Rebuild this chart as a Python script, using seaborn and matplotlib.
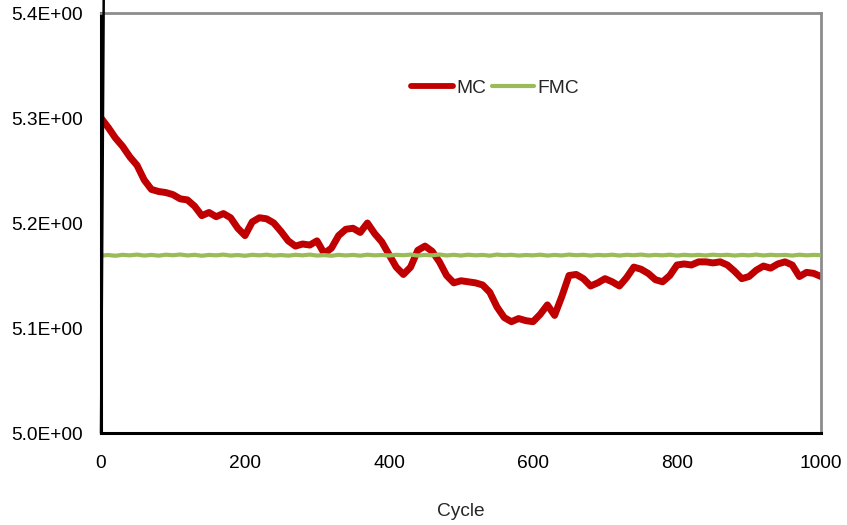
import matplotlib
matplotlib.use("Agg")
import matplotlib.pyplot as plt
import seaborn as sns
import pandas as pd
from matplotlib.lines import Line2D

cycles = list(range(0, 1001, 10))

mc = [5.300, 5.291, 5.281, 5.273, 5.263, 5.255, 5.241, 5.232, 5.230, 5.229,
      5.227, 5.223, 5.222, 5.216, 5.207, 5.210, 5.206, 5.209, 5.205, 5.195,
      5.188, 5.201, 5.205, 5.204, 5.200, 5.192, 5.183, 5.178, 5.180, 5.179,
      5.183, 5.171, 5.176, 5.188, 5.194, 5.195, 5.191, 5.200, 5.190, 5.182,
      5.170, 5.158, 5.151, 5.158, 5.174, 5.178, 5.173, 5.163, 5.150, 5.143,
      5.145, 5.144, 5.143, 5.141, 5.134, 5.120, 5.110, 5.106, 5.109, 5.107,
      5.106, 5.113, 5.122, 5.112, 5.130, 5.150, 5.151, 5.147, 5.140, 5.143,
      5.147, 5.144, 5.140, 5.148, 5.158, 5.156, 5.152, 5.146, 5.144, 5.150,
      5.160, 5.161, 5.160, 5.163, 5.163, 5.162, 5.163, 5.160, 5.154, 5.147,
      5.149, 5.155, 5.159, 5.157, 5.161, 5.163, 5.160, 5.149, 5.153, 5.152,
      5.149]

fmc = [5.1690, 5.1695, 5.1688, 5.1697, 5.1692, 5.1699, 5.1690, 5.1696, 5.1689, 5.1698,
       5.1693, 5.1700, 5.1691, 5.1697, 5.1688, 5.1696, 5.1692, 5.1699, 5.1690, 5.1695,
       5.1688, 5.1697, 5.1692, 5.1698, 5.1690, 5.1695, 5.1689, 5.1697, 5.1692, 5.1699,
       5.1690, 5.1694, 5.1688, 5.1697, 5.1691, 5.1696, 5.1689, 5.1698, 5.1692, 5.1695,
       5.1690, 5.1697, 5.1693, 5.1699, 5.1690, 5.1696, 5.1692, 5.1700, 5.1691, 5.1697,
       5.1690, 5.1698, 5.1692, 5.1696, 5.1689, 5.1699, 5.1693, 5.1697, 5.1690, 5.1695,
       5.1692, 5.1698, 5.1690, 5.1696, 5.1691, 5.1699, 5.1693, 5.1697, 5.1690, 5.1696,
       5.1692, 5.1698, 5.1690, 5.1697, 5.1693, 5.1699, 5.1691, 5.1696, 5.1692, 5.1698,
       5.1690, 5.1697, 5.1692, 5.1696, 5.1691, 5.1698, 5.1693, 5.1697, 5.1690, 5.1696,
       5.1692, 5.1699, 5.1691, 5.1697, 5.1693, 5.1696, 5.1690, 5.1698, 5.1692, 5.1696,
       5.1694]

# black start segment (runs off the top of the chart at cycle 0)
start_x = [0, 4]
start_y = [5.0, 5.44]

series_names = ["MC", "FMC"]
colors = {"MC": "#C00000", "FMC": "#9BBB59"}
yticks = [5.0, 5.1, 5.2, 5.3, 5.4]
ytick_labels = ["5.0E+00", "5.1E+00", "5.2E+00", "5.3E+00", "5.4E+00"]
xticks = [0, 200, 400, 600, 800, 1000]

df = pd.DataFrame({
    "Cycle": cycles * 2,
    "value": mc + fmc,
    "series": ["MC"] * len(cycles) + ["FMC"] * len(cycles),
})

sns.set_theme(style="white")
plt.rcParams["font.family"] = ["Liberation Sans", "DejaVu Sans"]

fig = plt.figure(figsize=(8.47, 5.25), dpi=100)
ax = fig.add_axes([101 / 847, 1 - 433 / 525, 720 / 847, 420 / 525])

sns.lineplot(data=df, x="Cycle", y="value", hue="series", hue_order=series_names,
             palette=colors, ax=ax, legend=False, estimator=None, sort=False)
lines = ax.get_lines()
lines[0].set_linewidth(5.0)
lines[1].set_linewidth(3.0)
lines[1].set_zorder(3)
lines[0].set_zorder(2)
for ln in lines:
    ln.set_solid_capstyle("round")
    ln.set_solid_joinstyle("round")

sns.lineplot(x=start_x, y=start_y, color="black", lw=1.8, ax=ax, clip_on=False,
             estimator=None, sort=False, zorder=4)

ax.set_xlim(0, 1000)
ax.set_ylim(5.0, 5.4)
ax.set_xticks(xticks)
ax.set_yticks(yticks)
ax.set_yticklabels(ytick_labels)
ax.tick_params(axis="both", direction="out", length=5, width=1.6, color="black",
               labelsize=13.8, colors="black")
ax.tick_params(axis="x", pad=11)
ax.tick_params(axis="y", pad=8)

for side in ["left", "bottom"]:
    ax.spines[side].set_color("black")
    ax.spines[side].set_linewidth(2.2)
for side in ["top", "right"]:
    ax.spines[side].set_color("#8c8c8c")
    ax.spines[side].set_linewidth(2.0)
    ax.spines[side].set_visible(True)

ax.set_xlabel("Cycle", fontsize=13.8, labelpad=22)
ax.set_ylabel("")

handles = [Line2D([0], [0], color=colors["MC"], lw=4.2, solid_capstyle="round"),
           Line2D([0], [0], color=colors["FMC"], lw=3.0, solid_capstyle="round")]
ax.legend(handles, series_names, loc="center", bbox_to_anchor=(0.547, 0.821),
          ncol=2, frameon=False, fontsize=13.8, handlelength=2.2, handletextpad=0.15,
          columnspacing=0.3)

fig.savefig("out.png", dpi=100)
